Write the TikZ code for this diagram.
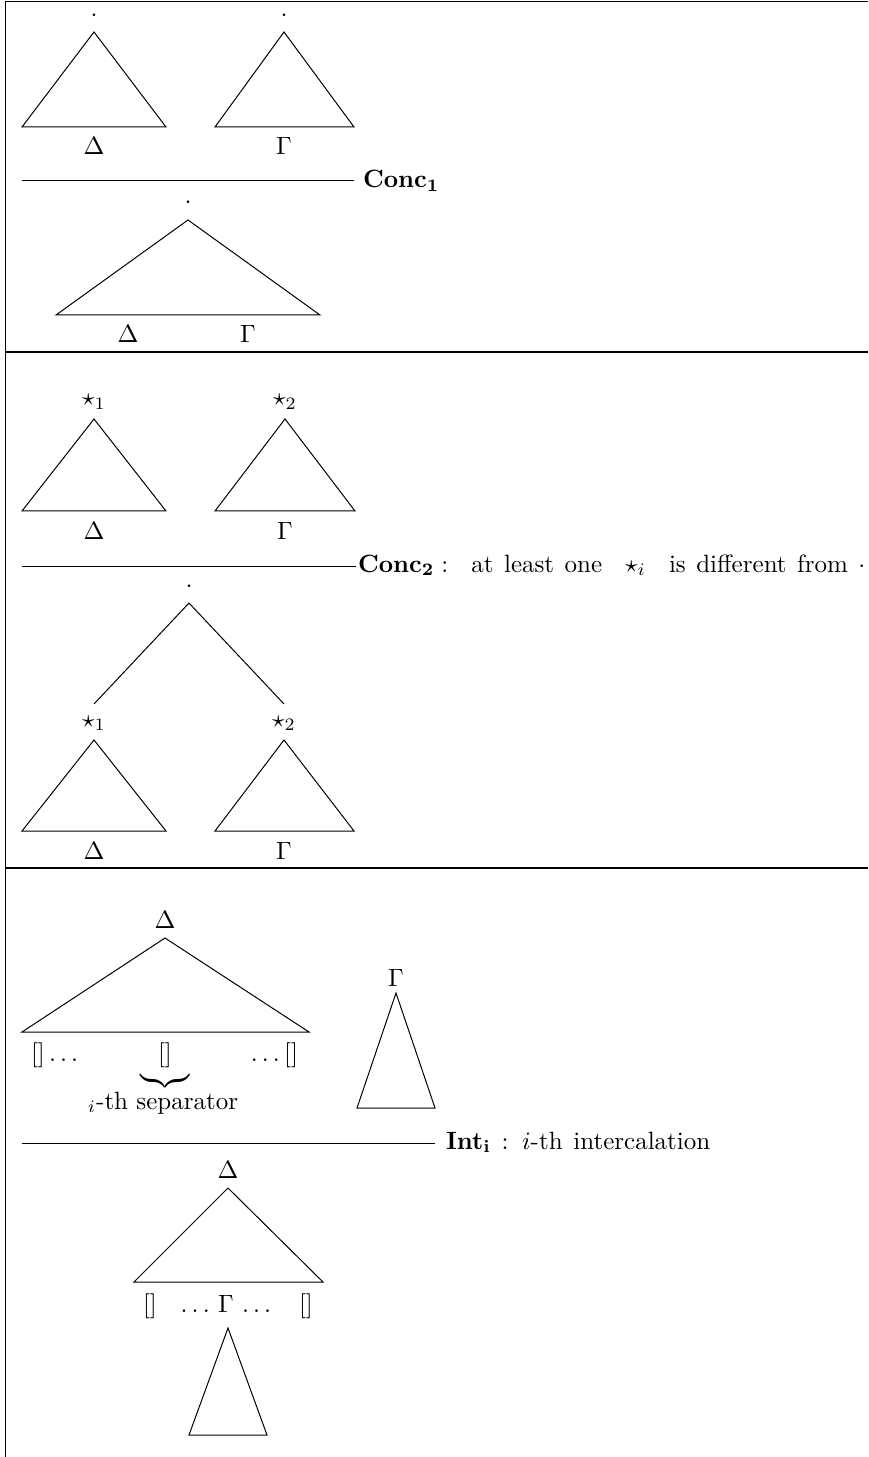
\documentclass[tikz,border=0pt]{standalone}
\usepackage{amsmath}
\begin{document}
\begin{tikzpicture}[x=0.4pt,y=-0.4pt,
  lbl/.style={anchor=base,inner sep=0pt,outer sep=0pt},
  lblw/.style={anchor=base west,inner sep=0pt,outer sep=0pt},
  lble/.style={anchor=base east,inner sep=0pt,outer sep=0pt},
  tri/.style={line width=0.4pt,line join=miter},
  rulebar/.style={line width=0.4pt},
  frameline/.style={line width=0.6pt}]
\useasboundingbox (0,0) rectangle (868,1457);
% frame
\draw[frameline] (868,1.5) -- (5.5,1.5) -- (5.5,1457);
\draw[frameline] (5.5,352) -- (868,352);
\draw[frameline] (5.5,868) -- (868,868);

% ---------- panel 1: Conc1 ----------
\draw[tri] (94,32) -- (166,127) -- (22,127) -- cycle;
\draw[tri] (284,32) -- (354,127) -- (215,127) -- cycle;
\node[lbl] (p1dotA) at (94,22) {$\cdot$};
\node[lbl] (p1dotB) at (284,22) {$\cdot$};
\node[lbl] (p1D) at (94,155) {$\Delta$};
\node[lbl] (p1G) at (284,155) {$\Gamma$};
\coordinate (r1a) at (22,181);
\coordinate (r1b) at (354,181);
\draw[rulebar] (r1a) -- (r1b);
\node[lblw] (conc1) at (363,188) {$\mathbf{Conc_1}$};
\node[lbl] (p1dotC) at (188,209) {$\cdot$};
\draw[tri] (188,220) -- (320,315) -- (56,315) -- cycle;
\node[lbl] (p1D2) at (128,343) {$\Delta$};
\node[lbl] (p1G2) at (248,343) {$\Gamma$};

% ---------- panel 2: Conc2 ----------
\node[lbl] (s1a) at (94,406) {$\star_1$};
\node[lbl] (s2a) at (285,406) {$\star_2$};
\draw[tri] (94,419) -- (166,511) -- (22,511) -- cycle;
\draw[tri] (285,419) -- (355,511) -- (215,511) -- cycle;
\node[lbl] (p2D) at (94,539) {$\Delta$};
\node[lbl] (p2G) at (285,539) {$\Gamma$};
\coordinate (r2a) at (22,566);
\coordinate (r2b) at (356,566);
\draw[rulebar] (r2a) -- (r2b);
\node[lblw] (conc2) at (358,572) {\spaceskip=4.2pt\relax $\mathbf{Conc_2}:$\hspace{5pt} at least one\hspace{5pt} $\star_i$\hspace{5pt} is different from $\cdot$};
\node[lbl] (p2dot) at (189,592) {$\cdot$};
\coordinate (top2) at (189,603);
\coordinate (l2) at (94,704);
\coordinate (rr2) at (284,704);
\draw[tri] (l2) -- (top2) -- (rr2);
\node[lbl] (s1b) at (94,727) {$\star_1$};
\node[lbl] (s2b) at (284,727) {$\star_2$};
\draw[tri] (94,740) -- (166,831) -- (22,831) -- cycle;
\draw[tri] (284,740) -- (354,831) -- (215,831) -- cycle;
\node[lbl] (p2D2) at (94,859) {$\Delta$};
\node[lbl] (p2G2) at (284,859) {$\Gamma$};

% ---------- panel 3: Int_i ----------
\node[lbl] (p3D) at (165,928) {$\Delta$};
\draw[tri] (165,938) -- (309,1032) -- (22,1032) -- cycle;
\node[lblw] (holeL) at (31,1061) {$[]\dots$};
\node[lbl] (holeM) at (165,1061) {$[]$};
\node[lble] (holeR) at (298,1061) {$\dots[]$};
\node[anchor=north,inner sep=0pt] (brace) at (165,1071) {$\underbrace{\rule{20pt}{0pt}}$};
\node[lbl] (sep) at (163,1109) {${}_i$-th separator};
\node[lbl] (p3G) at (396,986) {$\Gamma$};
\draw[tri] (396,993) -- (435,1108) -- (357,1108) -- cycle;
\coordinate (r3a) at (22,1143);
\coordinate (r3b) at (435,1143);
\draw[rulebar] (r3a) -- (r3b);
\node[lblw] (int) at (446,1149) {\spaceskip=4.3pt\relax $\mathbf{Int_i}$ : $i$-th intercalation};
\node[lbl] (p3D2) at (228,1178) {$\Delta$};
\draw[tri] (228,1188) -- (323,1282) -- (134,1282) -- cycle;
\node[lbl] (h2L) at (150,1312) {$[]$};
\node[lbl] (h2M) at (228,1312) {$\dots\,\Gamma\,\dots$};
\node[lbl] (h2R) at (306,1312) {$[]$};
\draw[tri] (228,1328) -- (267,1435) -- (189,1435) -- cycle;
\end{tikzpicture}
\end{document}
